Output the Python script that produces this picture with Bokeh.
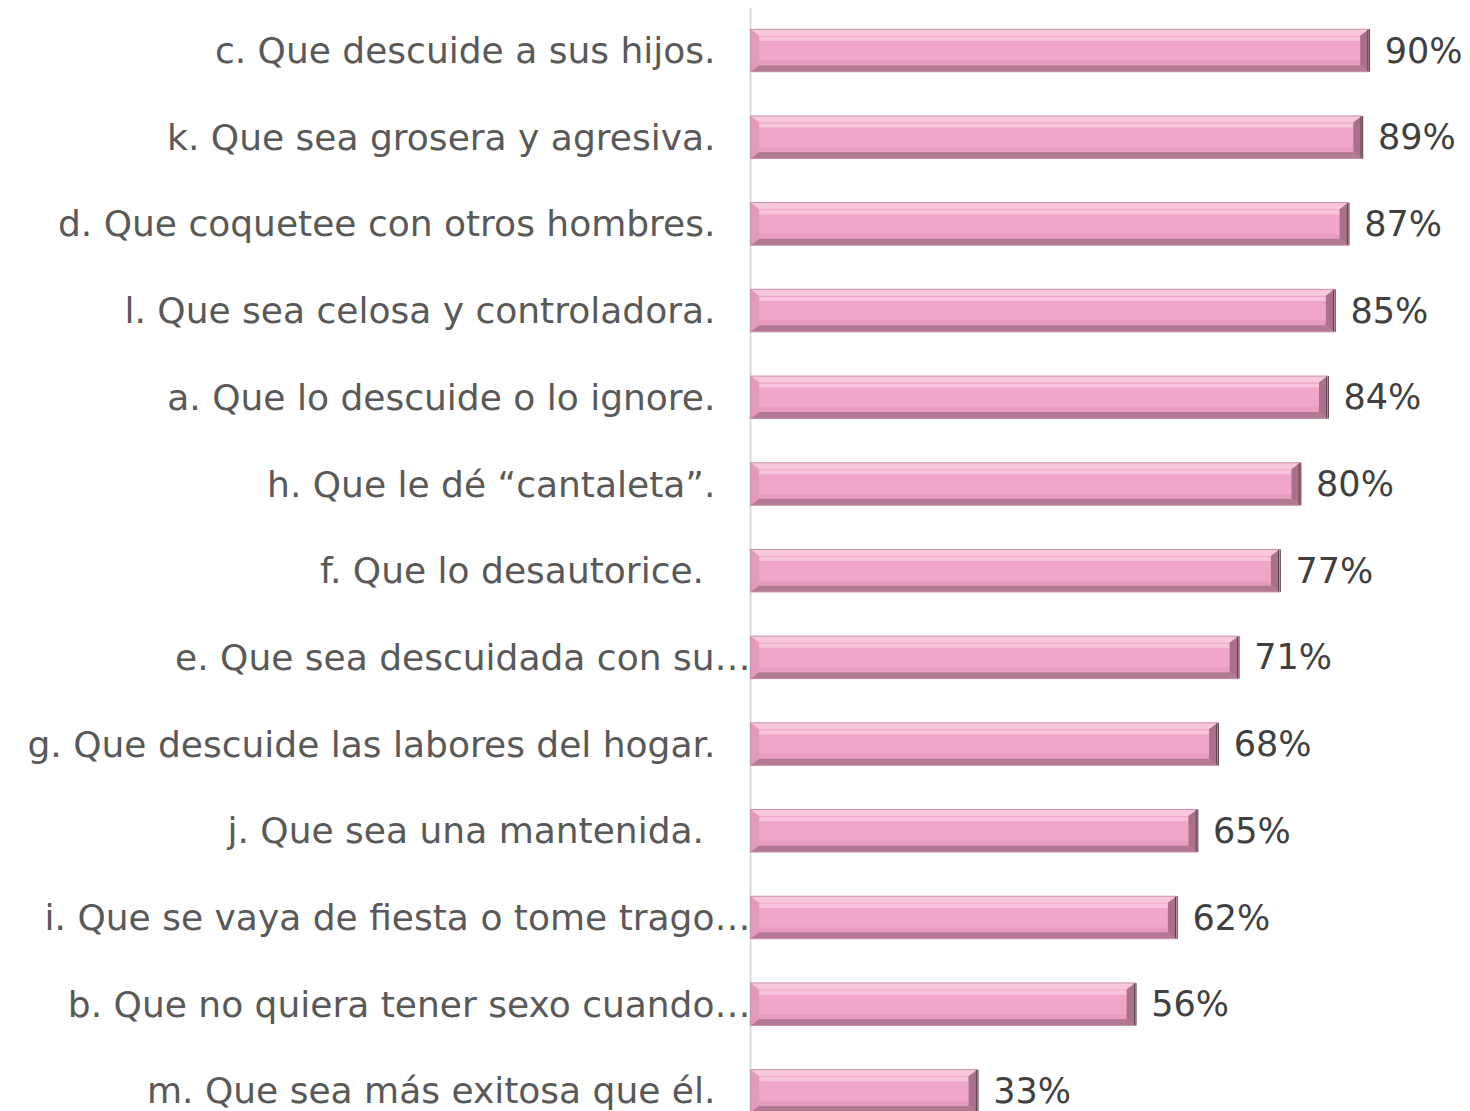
from bokeh.plotting import figure
from bokeh.models import Range1d, ColumnDataSource
from bokeh.core.properties import value
from bokeh.embed import file_html
from bokeh.resources import INLINE

categories = [
    "c. Que descuide a sus hijos.",
    "k. Que sea grosera y agresiva.",
    "d. Que coquetee con otros hombres.",
    "l. Que sea celosa y controladora.",
    "a. Que lo descuide o lo ignore.",
    "h. Que le dé “cantaleta”.",
    "f. Que lo desautorice. ",
    "e. Que sea descuidada con su…",
    "g. Que descuide las labores del hogar.",
    "j. Que sea una mantenida. ",
    "i. Que se vaya de fiesta o tome trago…",
    "b. Que no quiera tener sexo cuando…",
    "m. Que sea más exitosa que él.",
]
values = [90, 89, 87, 85, 84, 80, 77, 71, 68, 65, 62, 56, 33]
value_labels = ["90%", "89%", "87%", "85%", "84%", "80%", "77%", "71%", "68%", "65%", "62%", "56%", "33%"]

W, H = 1470, 1111
PX = 6.87
x0 = -750 / PX
ROW = 86.7
y_top = -50 / ROW
y_bot = (H - 50) / ROW

p = figure(width=W, height=H, output_backend="svg", toolbar_location=None,
           x_range=Range1d(x0, x0 + W / PX), y_range=Range1d(y_bot, y_top),
           min_border=0, outline_line_color=None)
p.axis.visible = False
p.grid.visible = False
p.background_fill_color = "white"
p.border_fill_color = "white"

idx = list(range(len(values)))
hb = 0.245  # half bar height in rows
bx = 1.25   # bevel width in % units
by = 0.075  # bevel height in rows

top_x, top_y, bot_x, bot_y, lft_x, lft_y, rgt_x, rgt_y = [], [], [], [], [], [], [], []
for i, v in zip(idx, values):
    t, b = i - hb, i + hb
    top_x.append([0, v, v - bx, bx]); top_y.append([t, t, t + by, t + by])
    bot_x.append([0, v, v - bx, bx]); bot_y.append([b, b, b - by, b - by])
    lft_x.append([0, bx, bx, 0]); lft_y.append([t, t + by, b - by, b])
    rgt_x.append([v, v - bx, v - bx, v]); rgt_y.append([t, t + by, b - by, b])

src = ColumnDataSource(dict(y=idx, right=values, cat=categories, lab=value_labels,
                            top=[i - hb for i in idx], bot=[i + hb for i in idx]))

# axis line
p.segment(x0=[0], y0=[y_top + 0.09], x1=[0], y1=[y_bot], line_color="#D9D9D9", line_width=2)

p.hbar(y="y", left=0, right="right", height=2 * hb, source=src,
       fill_color="#F0A6C6", line_color=None)
p.hbar(y=[i - hb + by + 0.035 for i in idx], left=[bx for _ in idx],
       right=[v - bx for v in values], height=0.045, fill_color="#F8C6DC", line_color=None)
p.hbar(y=[i + hb - by - 0.03 for i in idx], left=[bx for _ in idx],
       right=[v - bx for v in values], height=0.05, fill_color="#E79CBD", line_color=None)
p.patches(top_x, top_y, fill_color="#F7C8DC", line_color=None)
p.patches(bot_x, bot_y, fill_color="#B27A92", line_color=None)
p.patches(lft_x, lft_y, fill_color="#E49ABA", line_color=None)
p.patches(rgt_x, rgt_y, fill_color="#A9708A", line_color=None)
p.segment(x0="right", y0="top", x1="right", y1="bot", source=src,
          line_color="#3A2A32", line_width=2.5)
p.hbar(y="y", left=0, right="right", height=2 * hb, source=src,
       fill_color=None, line_color="#C890A8", line_width=1)

norm = [j for j, c in enumerate(categories) if not c.endswith("…")]
trunc = [j for j, c in enumerate(categories) if c.endswith("…")]
p.text(x=[-5.1] * len(norm), y=[idx[j] for j in norm], text=[categories[j] for j in norm],
       text_align="right", text_baseline="middle", text_font=value("DejaVu Sans"),
       text_font_size="36px", text_color="#595959")
p.text(x=[0] * len(trunc), y=[idx[j] for j in trunc], text=[categories[j] for j in trunc],
       text_align="right", text_baseline="middle", text_font=value("DejaVu Sans"),
       text_font_size="36px", text_color="#595959")

p.text(x="right", y="y", text="lab", source=src, x_offset=16, y_offset=0,
       text_align="left", text_baseline="middle", text_font=value("DejaVu Sans"),
       text_font_size="35px", text_color="#404040")

open("out.html", "w").write(file_html(p, INLINE))
